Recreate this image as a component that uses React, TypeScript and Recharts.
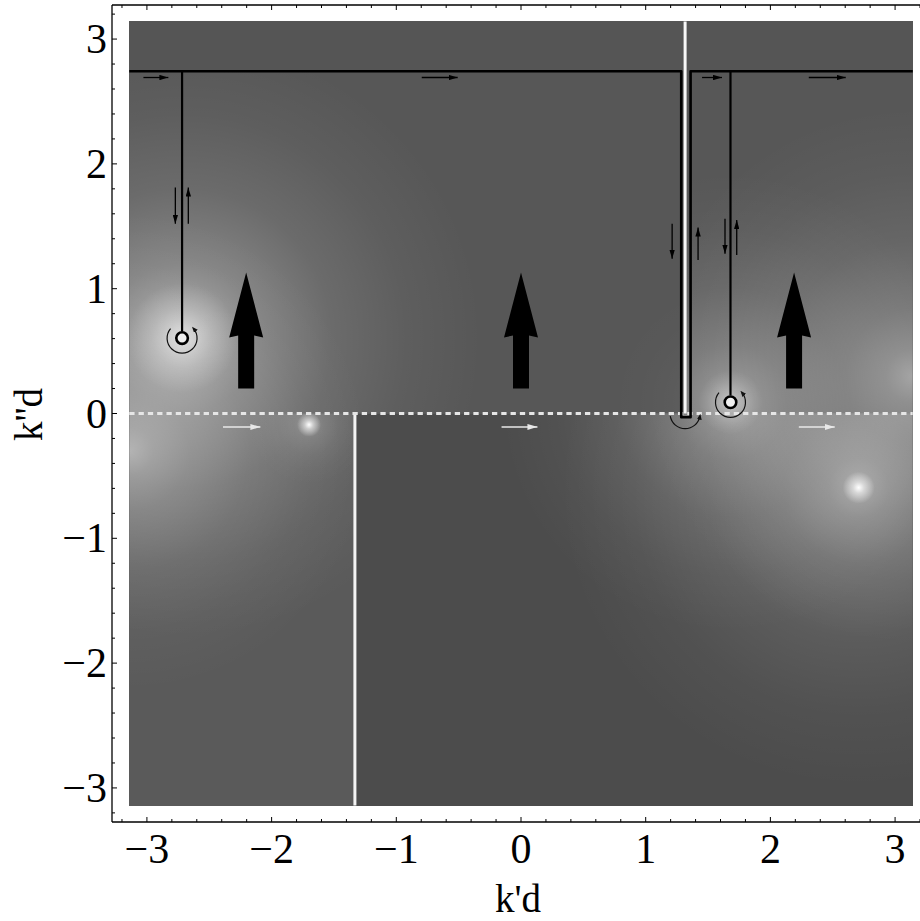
import React from "react";
import { ComposedChart, XAxis, YAxis, Line, Scatter, ReferenceArea, ReferenceLine } from "recharts";

const PI = Math.PI;

// frame ticks: integers get a label, the rest are minor marks
const ticks = [
  -3.2, -3, -2.8, -2.6, -2.4, -2.2, -2, -1.8, -1.6, -1.4, -1.2, -1, -0.8, -0.6, -0.4, -0.2, 0,
  0.2, 0.4, 0.6, 0.8, 1, 1.2, 1.4, 1.6, 1.8, 2, 2.2, 2.4, 2.6, 2.8, 3, 3.2,
];

// branch cuts and the horizontal part of the contour
const cutLeftX = -1.332;
const cutRightX = 1.316;
const contourY = 2.742;

// integration contour (black)
const contourTop = [
  { x: -PI, y: contourY },
  { x: 1.285, y: contourY },
  { x: 1.285, y: -0.03 },
  { x: 1.36, y: -0.03 },
  { x: 1.36, y: contourY },
  { x: PI, y: contourY },
];
const contourLeftBranch = [
  { x: -2.718, y: contourY },
  { x: -2.718, y: 0.66 },
];
const contourRightBranch = [
  { x: 1.68, y: contourY },
  { x: 1.68, y: 0.145 },
];

// poles, branch point and bright spots of the field
const poles = [
  { x: -2.718, y: 0.604 },
  { x: 1.68, y: 0.09 },
];
const branchPoint = [{ x: cutRightX, y: 0 }];
const edgeLeft = [{ x: -PI, y: -0.3 }];
const edgeRight = [{ x: PI, y: 0.3 }];
const spotLeft = [{ x: -1.7, y: -0.09 }];
const spotRight = [{ x: 2.708, y: -0.594 }];

// small direction arrows along the contour (tail -> head)
const flowArrows = [
  { x1: -3.028, y1: 2.692, x2: -2.828, y2: 2.692 },
  { x1: -0.796, y1: 2.692, x2: -0.508, y2: 2.692 },
  { x1: 1.452, y1: 2.692, x2: 1.612, y2: 2.692 },
  { x1: 2.308, y1: 2.692, x2: 2.604, y2: 2.692 },
  { x1: -2.772, y1: 1.81, x2: -2.772, y2: 1.52 },
  { x1: -2.668, y1: 1.52, x2: -2.668, y2: 1.81 },
  { x1: 1.212, y1: 1.52, x2: 1.212, y2: 1.24 },
  { x1: 1.42, y1: 1.23, x2: 1.42, y2: 1.49 },
  { x1: 1.636, y1: 1.56, x2: 1.636, y2: 1.28 },
  { x1: 1.73, y1: 1.27, x2: 1.73, y2: 1.55 },
];

// white arrows under the real axis
const realAxisArrows = [
  { x1: -2.39, x2: -2.09, y: -0.108 },
  { x1: -0.156, x2: 0.132, y: -0.108 },
  { x1: 2.228, x2: 2.516, y: -0.108 },
];

// big upward arrows (base -> tip)
const bigArrows = [
  { x: -2.204, from: 0.2, to: 1.13 },
  { x: 0, from: 0.2, to: 1.13 },
  { x: 2.19, from: 0.2, to: 1.13 },
];

const SERIF = "'Liberation Serif', 'Times New Roman', serif";
const isMajor = (v: number) => Math.abs(v - Math.round(v)) < 1e-6;
const fmt = (v: number) => (v < 0 ? "\u2212" + Math.abs(Math.round(v)) : String(Math.round(v)));

function BottomTick(p: any) {
  const v = p.payload.value;
  const m = isMajor(v);
  return (
    <g>
      <line x1={p.x} x2={p.x} y1={p.y} y2={p.y - (m ? 5 : 3)} stroke="#000" strokeWidth={1} />
      {m && (
        <text x={p.x} y={p.y + 41} textAnchor="middle" fontSize={42} fontFamily={SERIF} fill="#000">
          {fmt(v)}
        </text>
      )}
    </g>
  );
}

function LeftTick(p: any) {
  const v = p.payload.value;
  const m = isMajor(v);
  return (
    <g>
      <line x1={p.x} x2={p.x + (m ? 5 : 3)} y1={p.y} y2={p.y} stroke="#000" strokeWidth={1} />
      {m && (
        <text x={p.x - 5} y={p.y + 14} textAnchor="end" fontSize={42} fontFamily={SERIF} fill="#000">
          {fmt(v)}
        </text>
      )}
    </g>
  );
}

function TopTick(p: any) {
  const m = isMajor(p.payload.value);
  return <line x1={p.x} x2={p.x} y1={p.y} y2={p.y + (m ? 5 : 3)} stroke="#000" strokeWidth={1} />;
}

function RightTick(p: any) {
  const m = isMajor(p.payload.value);
  return <line x1={p.x} x2={p.x - (m ? 5 : 3)} y1={p.y} y2={p.y} stroke="#000" strokeWidth={1} />;
}

// a region of the density plot; also leaves a clip path for the glows
const region = (id: string, fill: string) => (p: any) =>
  (
    <g>
      <defs>
        <clipPath id={id}>
          <rect x={p.x} y={p.y} width={p.width} height={p.height} />
        </clipPath>
      </defs>
      <rect x={p.x} y={p.y} width={p.width} height={p.height} fill={fill} shapeRendering="crispEdges" />
    </g>
  );

const glow = (r: number, k: number, clips: string[], grad = "glowGrad") => (p: any) =>
  (
    <g>
      {clips.map((c) => (
        <circle key={c} cx={p.cx} cy={p.cy} r={r} fill={`url(#${grad})`} fillOpacity={k} clipPath={`url(#${c})`} />
      ))}
    </g>
  );

const arrowLine = (marker: string, color: string, w: number) => (p: any) =>
  <line x1={p.x1} y1={p.y1} x2={p.x2} y2={p.y2} stroke={color} strokeWidth={w} markerEnd={`url(#${marker})`} />;

const bigArrow = (p: any) => {
  const cx = p.x1;
  const yb = p.y1;
  const yt = p.y2;
  const yh = yt + 63;
  const pts = [
    [cx - 8, yb],
    [cx + 8, yb],
    [cx + 8, yh],
    [cx + 17, yh + 2],
    [cx, yt],
    [cx - 17, yh + 2],
    [cx - 8, yh],
  ]
    .map((q) => q.join(","))
    .join(" ");
  return <polygon points={pts} fill="#000" />;
};

const poleShape = (p: any) => (
  <g>
    <path
      d={`M ${p.cx - 11.5} ${p.cy - 9.6} A 15 15 0 1 0 ${p.cx + 11.5} ${p.cy - 9.6}`}
      fill="none"
      stroke="#111"
      strokeWidth={1.2}
      markerEnd="url(#arcHead)"
    />
    <circle cx={p.cx} cy={p.cy} r={5.8} fill="#f0f0f0" stroke="#000" strokeWidth={2.6} />
  </g>
);

const branchShape = (p: any) => (
  <path
    d={`M ${p.cx - 14.8} ${p.cy + 2.6} A 15 15 0 0 0 ${p.cx + 14.8} ${p.cy + 2.6}`}
    fill="none"
    stroke="#111"
    strokeWidth={1.2}
    markerEnd="url(#arcHead)"
  />
);

export default function App() {
  return (
    <div style={{ position: "absolute", left: 0, top: 0, width: 920, height: 921, overflow: "hidden", background: "#fff" }}>
      <ComposedChart width={940} height={921} margin={{ top: 0, right: 0, bottom: 0, left: 0 }}>
        <defs>
          <radialGradient id="glowGrad">
            <stop offset="0" stopColor="#fff" stopOpacity={1} />
            <stop offset="0.1" stopColor="#fff" stopOpacity={0.7} />
            <stop offset="0.25" stopColor="#fff" stopOpacity={0.45} />
            <stop offset="0.5" stopColor="#fff" stopOpacity={0.2} />
            <stop offset="0.75" stopColor="#fff" stopOpacity={0.07} />
            <stop offset="1" stopColor="#fff" stopOpacity={0} />
          </radialGradient>
          <radialGradient id="spotGrad">
            <stop offset="0" stopColor="#fff" stopOpacity={1} />
            <stop offset="0.35" stopColor="#fff" stopOpacity={0.55} />
            <stop offset="1" stopColor="#fff" stopOpacity={0} />
          </radialGradient>
          <marker id="headBlack" viewBox="0 0 10 6" refX="10" refY="3" markerWidth="9" markerHeight="5.4" markerUnits="userSpaceOnUse" orient="auto">
            <path d="M0,0 L10,3 L0,6 z" fill="#000" />
          </marker>
          <marker id="headWhite" viewBox="0 0 10 6" refX="10" refY="3" markerWidth="10" markerHeight="6" markerUnits="userSpaceOnUse" orient="auto">
            <path d="M0,0 L10,3 L0,6 z" fill="#e8e8e8" />
          </marker>
          <marker id="arcHead" viewBox="0 0 10 8" refX="6" refY="4" markerWidth="6" markerHeight="4.8" markerUnits="userSpaceOnUse" orient="auto">
            <path d="M0,0 L10,4 L0,8 z" fill="#111" />
          </marker>
        </defs>

        <XAxis
          dataKey="x"
          type="number"
          domain={[-3.28, 3.28]}
          allowDataOverflow
          ticks={ticks}
          interval={0}
          height={99}
          tickSize={0}
          tickMargin={0}
          tickLine={false}
          axisLine={{ stroke: "#000", strokeWidth: 1.3 }}
          tick={BottomTick}
          label={{
            content: (lp: any) => (
              <text
                x={lp.viewBox.x + lp.viewBox.width / 2 - 3}
                y={lp.viewBox.y + lp.viewBox.height - 9}
                textAnchor="middle"
                fontSize={39}
                fontFamily={SERIF}
                fill="#000"
              >
                k'd
              </text>
            ),
          }}
        />
        <XAxis
          xAxisId="top"
          orientation="top"
          dataKey="x"
          type="number"
          domain={[-3.28, 3.28]}
          allowDataOverflow
          ticks={ticks}
          interval={0}
          height={5}
          tickSize={0}
          tickMargin={0}
          tickLine={false}
          axisLine={{ stroke: "#000", strokeWidth: 1.3 }}
          tick={TopTick}
        />
        <YAxis
          dataKey="y"
          type="number"
          domain={[-3.273, 3.273]}
          allowDataOverflow
          ticks={ticks}
          interval={0}
          width={112}
          tickSize={0}
          tickMargin={0}
          tickLine={false}
          axisLine={{ stroke: "#000", strokeWidth: 1.3 }}
          tick={LeftTick}
          label={{
            content: (lp: any) => {
              const cx = lp.viewBox.x + 42;
              const cy = lp.viewBox.y + lp.viewBox.height / 2 + 1;
              return (
                <text x={cx} y={cy} transform={`rotate(-90, ${cx}, ${cy})`} textAnchor="middle" fontSize={39} fontFamily={SERIF} fill="#000">
                  k''d
                </text>
              );
            },
          }}
        />
        <YAxis
          yAxisId="right"
          orientation="right"
          dataKey="y"
          type="number"
          domain={[-3.273, 3.273]}
          allowDataOverflow
          ticks={ticks}
          interval={0}
          width={10}
          tickSize={0}
          tickMargin={0}
          tickLine={false}
          axisLine={{ stroke: "#000", strokeWidth: 1.3 }}
          tick={RightTick}
        />

        {/* density background: regions split by the contour and the branch cuts */}
        <ReferenceArea x1={-PI} x2={PI} y1={-PI} y2={PI} shape={region("cAll", "#575757")} zIndex={1} />
        <ReferenceArea x1={-PI} x2={PI} y1={contourY} y2={PI} shape={region("cT", "#555555")} zIndex={1} />
        <ReferenceArea x1={-PI} x2={cutRightX} y1={0} y2={contourY} shape={region("cB1", "#575757")} zIndex={1} />
        <ReferenceArea x1={cutRightX} x2={PI} y1={0} y2={contourY} shape={region("cB2", "#575757")} zIndex={1} />
        <ReferenceArea x1={-PI} x2={cutLeftX} y1={-PI} y2={0} shape={region("cC", "#5a5a5a")} zIndex={1} />
        <ReferenceArea x1={cutLeftX} x2={PI} y1={-PI} y2={0} shape={region("cD", "#4c4c4c")} zIndex={1} />

        <Scatter data={[poles[0]]} shape={glow(300, 0.6, ["cB1", "cC"])} isAnimationActive={false} zIndex={2} />
        <Scatter data={[poles[0]]} shape={glow(55, 0.5, ["cB1", "cC"], "spotGrad")} isAnimationActive={false} zIndex={2} />
        <Scatter data={edgeLeft} shape={glow(240, 0.45, ["cB1", "cC"])} isAnimationActive={false} zIndex={2} />
        <Scatter data={spotLeft} shape={glow(60, 0.25, ["cC"])} isAnimationActive={false} zIndex={2} />
        <Scatter data={spotLeft} shape={glow(12, 1, ["cC"], "spotGrad")} isAnimationActive={false} zIndex={2} />
        <Scatter data={[poles[1]]} shape={glow(230, 0.45, ["cB2", "cD"])} isAnimationActive={false} zIndex={2} />
        <Scatter data={[poles[1]]} shape={glow(120, 0.12, ["cB1"])} isAnimationActive={false} zIndex={2} />
        <Scatter data={[poles[1]]} shape={glow(32, 0.35, ["cB2", "cD"], "spotGrad")} isAnimationActive={false} zIndex={2} />
        <Scatter data={edgeRight} shape={glow(270, 0.45, ["cB2", "cD"])} isAnimationActive={false} zIndex={2} />
        <Scatter data={spotRight} shape={glow(300, 0.45, ["cD"])} isAnimationActive={false} zIndex={2} />
        <Scatter data={spotRight} shape={glow(16, 1, ["cD"], "spotGrad")} isAnimationActive={false} zIndex={2} />

        {/* branch cuts and the real axis */}
        <ReferenceLine segment={[{ x: cutLeftX, y: 0 }, { x: cutLeftX, y: -PI }]} stroke="#f4f4f4" strokeWidth={3} zIndex={3} />
        <ReferenceLine segment={[{ x: cutRightX, y: PI }, { x: cutRightX, y: 0 }]} stroke="#f8f8f8" strokeWidth={3} zIndex={3} />
        <ReferenceLine segment={[{ x: -PI, y: 0 }, { x: PI, y: 0 }]} stroke="#e6e6e6" strokeWidth={3} strokeDasharray="5.3 4" zIndex={3} />

        {/* contour */}
        <Line data={contourTop} dataKey="y" stroke="#000" strokeWidth={2.6} dot={false} activeDot={false} strokeLinejoin="round" isAnimationActive={false} zIndex={4} />
        <Line data={contourLeftBranch} dataKey="y" stroke="#000" strokeWidth={2.2} dot={false} activeDot={false} isAnimationActive={false} zIndex={4} />
        <Line data={contourRightBranch} dataKey="y" stroke="#000" strokeWidth={2.2} dot={false} activeDot={false} isAnimationActive={false} zIndex={4} />

        {/* arrows */}
        {bigArrows.map((a, i) => (
          <ReferenceLine key={"big" + i} segment={[{ x: a.x, y: a.from }, { x: a.x, y: a.to }]} shape={bigArrow} zIndex={5} />
        ))}
        {flowArrows.map((a, i) => (
          <ReferenceLine key={"fl" + i} segment={[{ x: a.x1, y: a.y1 }, { x: a.x2, y: a.y2 }]} shape={arrowLine("headBlack", "#000", 1.3)} zIndex={5} />
        ))}
        {realAxisArrows.map((a, i) => (
          <ReferenceLine key={"ra" + i} segment={[{ x: a.x1, y: a.y }, { x: a.x2, y: a.y }]} shape={arrowLine("headWhite", "#e8e8e8", 1.6)} zIndex={5} />
        ))}

        {/* poles and branch point */}
        <Scatter data={branchPoint} shape={branchShape} isAnimationActive={false} zIndex={6} />
        <Scatter data={poles} shape={poleShape} isAnimationActive={false} zIndex={6} />
      </ComposedChart>
    </div>
  );
}
